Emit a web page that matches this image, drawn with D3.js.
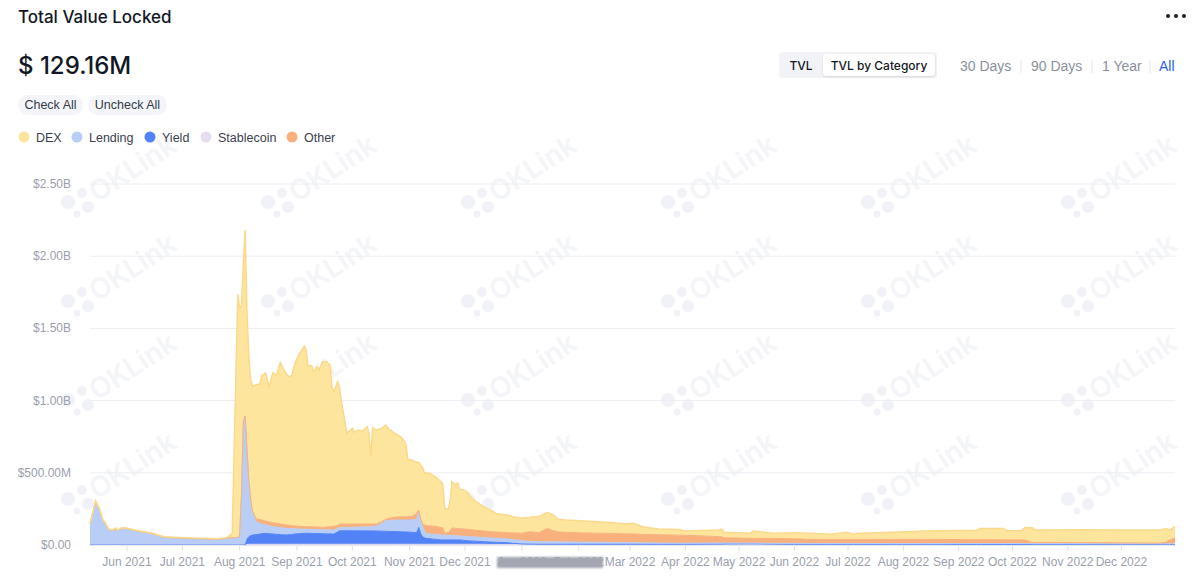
<!DOCTYPE html>
<html><head><meta charset="utf-8">
<script src="https://cdn.jsdelivr.net/npm/d3@7"></script>
<style>
body{margin:0;background:#fff;font-family:Inter,"Noto Sans",Arial,sans-serif;}
svg{display:block;}
</style></head><body>
<svg id="chart" width="1200" height="579"></svg>
<script>
// ---------- DATA (values in millions of USD) ----------
const dates = [
"2021-05-12","2021-05-15","2021-05-17","2021-05-19","2021-05-20","2021-05-22","2021-05-24","2021-05-26","2021-05-27","2021-05-29",
"2021-05-31","2021-06-03","2021-06-07","2021-06-14","2021-06-21","2021-06-27","2021-07-02","2021-07-07","2021-07-14","2021-07-20",
"2021-07-25","2021-07-27","2021-07-28","2021-07-29","2021-07-30","2021-07-31","2021-08-01","2021-08-02","2021-08-03","2021-08-04",
"2021-08-05","2021-08-06","2021-08-07","2021-08-08","2021-08-10","2021-08-12","2021-08-13","2021-08-15","2021-08-17","2021-08-19",
"2021-08-21","2021-08-23","2021-08-25","2021-08-27","2021-08-29","2021-08-31","2021-09-02","2021-09-05","2021-09-06","2021-09-07",
"2021-09-09","2021-09-10","2021-09-12","2021-09-13","2021-09-15","2021-09-17","2021-09-19","2021-09-20","2021-09-21","2021-09-23",
"2021-09-24","2021-09-25","2021-09-27","2021-09-28","2021-09-30","2021-10-01","2021-10-02","2021-10-04","2021-10-06","2021-10-07",
"2021-10-09","2021-10-10","2021-10-11","2021-10-12","2021-10-14","2021-10-17","2021-10-19","2021-10-21","2021-10-24","2021-10-27",
"2021-10-28","2021-10-30","2021-10-31","2021-11-02","2021-11-04","2021-11-05","2021-11-06","2021-11-07","2021-11-08","2021-11-09",
"2021-11-10","2021-11-12","2021-11-14","2021-11-16","2021-11-18","2021-11-19","2021-11-20","2021-11-22","2021-11-23","2021-11-24",
"2021-11-26","2021-11-27","2021-11-28","2021-11-30","2021-12-02","2021-12-04","2021-12-07","2021-12-11","2021-12-15","2021-12-18",
"2021-12-24","2021-12-27","2022-01-01","2022-01-05","2022-01-07","2022-01-10","2022-01-15","2022-01-18","2022-01-21","2022-01-25",
"2022-02-02","2022-02-11","2022-02-20","2022-02-27","2022-03-03","2022-03-08","2022-03-17","2022-03-29","2022-03-31","2022-04-20",
"2022-04-21","2022-04-23","2022-05-07","2022-05-09","2022-05-20","2022-06-01","2022-06-09","2022-06-22","2022-06-30","2022-07-04",
"2022-07-07","2022-07-26","2022-08-14","2022-09-11","2022-09-13","2022-09-26","2022-09-28","2022-10-06","2022-10-08","2022-10-12",
"2022-10-14","2022-11-10","2022-12-01","2022-12-23","2022-12-26","2022-12-28","2022-12-31"
];
const stablecoinValues = [
0,0,0,0,0,0,0,0,0,0, 0,0,0,0,0,0,0,0,0,0, 0,0,0,0,0,0,0,0,0,0,
3,5,5,5,5,5,5,5,5,5, 5,5,5,5,5,5,5,5,5,5, 5,5,5,5,5,5,5,5,5,5,
5,5,5,5,5,5,5,5,5,5, 5,5,5,5,5,5,5,5,5,5, 5,5,5,5,5,5,5,5,5,5,
5,5,5,5,5,5,5,5,5,5, 5,5,5,5,5,5,5,5,4,4, 4,4,3,3,3,3,3,3,3,3,
3,3,3,3,3,3,3,3,3,3, 3,3,3,3,3,3,3,3,3,3, 3,3,3,3,3,3,3,3,3,3,
3,3,3,3,3,3,3
];
const yieldValues = [
0,0,0,0,0,0,0,0,0,0, 0,0,0,0,0,0,0,0,0,0, 0,0,0,0,0,0,0,0,0,0,
37,53,60,64,67,71,73,76,73,71, 69,67,65,65,68,71,73,76,76,76, 75,75,74,74,73,72,72,71,71,85,
94,94,94,94,94,94,94,93,93,93, 93,93,93,92,92,91,90,89,88,87, 87,85,85,83,80,85,117,75,53,45,
41,39,35,33,30,30,30,30,30,30, 30,30,30,28,25,23,21,18,16,15, 12,8,4,3,3,2,2,2,2,2,
2,2,2,2,2,2,2,2,2,3, 3,4,5,5,3,2,2,2,2,2, 2,2,2,1,1,1,1,1,1,1,
1,1,1,1,1,1,1
];
const lendingValues = [
146,301,252,169,156,107,100,114,100,114, 116,107,95,81,53,49,47,44,42,40, 47,50,50,50,50,50,70,350,850,893,
620,392,245,151,88,74,67,59,55,51, 50,49,47,45,40,36,33,28,28,28, 28,28,28,28,28,28,28,28,28,25,
23,23,23,23,23,24,24,26,26,28, 28,28,28,33,35,54,73,76,79,81, 81,83,83,85,90,95,109,90,72,50,
35,34,35,34,34,34,33,32,32,31, 30,30,27,28,30,30,29,29,29,28, 26,26,23,20,19,18,17,17,16,16,
15,14,13,12,11,10,9,8,8,8, 8,7,5,5,6,7,6,6,6,6, 6,5,5,6,6,6,6,6,6,5,
5,5,4,4,4,4,4
];
const otherValues = [
0,0,0,0,0,0,0,0,0,0, 0,0,0,0,0,0,0,0,0,0, 0,0,0,0,0,0,0,0,0,0,
0,0,5,15,20,26,28,26,27,27, 26,25,24,23,22,20,19,18,18,18, 18,18,17,17,16,19,22,25,26,20,
23,23,23,23,23,22,22,21,21,19, 19,19,19,15,13,12,10,15,20,23, 23,23,23,25,35,41,9,15,20,40,
54,54,55,56,51,51,13,21,33,52, 50,50,51,51,49,48,47,46,43,43, 44,46,51,66,65,62,93,78,69,67,
64,63,62,60,60,59,57,55,55,44, 44,36,33,33,34,31,28,28,28,28, 28,29,29,27,27,26,26,25,25,9,
9,8,7,6,12,27,43
];
const dexValues = [
4,4,4,4,4,4,4,4,4,4, 4,4,4,4,4,4,4,4,4,4, 4,19,30,580,1120,1686,1570,1310,1100,1288,
940,850,825,866,930,939,999,1025,936,1039, 1027,1119,1071,1034,1031,1126,1186,1251,1223,1115, 1116,1074,1111,1088,1147,1145,1119,967,932,996,
951,859,709,628,651,663,635,651,644,651, 674,628,466,667,651,646,653,616,581,554, 543,504,397,391,367,349,330,370,388,360,
363,364,350,334,318,300,173,159,212,322, 301,316,273,269,261,228,198,167,150,129, 122,112,104,98,106,111,109,108,88,85,
84,79,74,68,74,53,40,40,29,46, 52,38,35,51,35,42,42,35,49,35, 42,49,58,65,78,79,63,64,85,102,
86,88,89,90,95,65,78.16
];
const seriesNames = ["DEX","Lending","Yield","Stablecoin","Other"];
const seriesColors = ["#fde59e","#b8cef6","#5283f6","#e6ddf0","#f8b17d"];
const stackOrder = ["Stablecoin","Yield","Lending","Other","DEX"];
const yTickValues = [0,500,1000,1500,2000,2500];
const yTickLabels = ["$0.00","$500.00M","$1.00B","$1.50B","$2.00B","$2.50B"];
const rangeLabels = ["30 Days","90 Days","1 Year","All"];
const viewLabels = ["TVL","TVL by Category"];

// ---------- BUILD ----------
const parse = d3.timeParse("%Y-%m-%d");
const valuesByName = {DEX:dexValues, Lending:lendingValues, Yield:yieldValues, Stablecoin:stablecoinValues, Other:otherValues};
const colorOf = {}; seriesNames.forEach((n,i)=>colorOf[n]=seriesColors[i]);
const rows = dates.map((d,i)=>{
  const r = {date:parse(d)};
  seriesNames.forEach(n=>r[n]=valuesByName[n][i]);
  return r;
});

const svg = d3.select("#chart");
const font = 'Inter,"Noto Sans",Arial,sans-serif';
const font2 = '"Liberation Sans",Arial,Helvetica,sans-serif';

const x = d3.scaleTime()
  .domain([parse("2021-05-12"), parse("2021-12-01"), parse("2022-03-01"), parse("2022-12-31")])
  .range([90, 465, 630, 1175]);
const y = d3.scaleLinear().domain([0,2500]).range([545,184]);

const defs = svg.append("defs");
defs.append("filter").attr("id","smudge").append("feGaussianBlur").attr("stdDeviation",0.8);
const sh = defs.append("filter").attr("id","shadow").attr("x","-20%").attr("y","-30%").attr("width","140%").attr("height","160%");
sh.append("feDropShadow").attr("dx",0).attr("dy",1).attr("stdDeviation",1.2).attr("flood-color","#000").attr("flood-opacity",0.12);

// watermark
const wm = svg.append("g").attr("class","watermark");
const wmCols = [77,277,477,677,877,1077], wmRows = [203,302,401,500];
wmRows.forEach(ry=>wmCols.forEach(cx=>{
  const g = wm.append("g").attr("transform",`translate(${cx},${ry})`);
  [[-9,-1,7],[5,-10,5],[11,4,6],[0,11,3.5]].forEach(c=>g.append("circle").attr("cx",c[0]).attr("cy",c[1]).attr("r",c[2]).attr("fill","#f1f2f7"));
  g.append("text").attr("transform","translate(20,0) rotate(-33)").attr("font-family",font)
    .attr("font-size",28).attr("font-weight",600).attr("fill","#f4f5f8").text("OKLink");
}));

// gridlines
svg.append("g").selectAll("line").data(yTickValues).join("line")
  .attr("x1",90).attr("x2",1175).attr("y1",d=>y(d)).attr("y2",d=>y(d))
  .attr("stroke","#eceef3").attr("stroke-width",1);

// stacked areas
const stack = d3.stack().keys(stackOrder);
const layers = stack(rows);
const area = d3.area().x(d=>x(d.data.date)).y0(d=>y(d[0])).y1(d=>y(d[1]));
const topLine = d3.line().x(d=>x(d.data.date)).y(d=>y(d[1]));
const ag = svg.append("g");
ag.selectAll("path.area").data(layers).join("path").attr("class","area")
  .attr("d",area).attr("fill",d=>colorOf[d.key]);
ag.selectAll("path.top").data(layers).join("path").attr("class","top")
  .attr("d",topLine).attr("fill","none")
  .attr("stroke",d=>d.key==="DEX"?"#fbd98a":colorOf[d.key]).attr("stroke-width",d=>d.key==="DEX"?1.5:1);

// y axis labels
svg.append("g").selectAll("text").data(yTickValues).join("text")
  .attr("x",71).attr("y",d=>y(d)+4).attr("text-anchor","end")
  .attr("font-family",font2).attr("font-size",12).attr("fill","#9aa0ad")
  .text((d,i)=>yTickLabels[i]);

// x axis
const months = d3.timeMonth.range(parse("2021-06-01"), parse("2022-12-02"));
const xg = svg.append("g");
xg.append("line").attr("x1",90).attr("x2",1175).attr("y1",545.5).attr("y2",545.5).attr("stroke","#e6e8ee");
xg.selectAll("line.tick").data(months).join("line").attr("class","tick")
  .attr("x1",d=>x(d)).attr("x2",d=>x(d)).attr("y1",546).attr("y2",551).attr("stroke","#dde0e7");
xg.selectAll("text").data(months).join("text")
  .attr("x",d=>x(d)).attr("y",566).attr("text-anchor","middle")
  .attr("font-family",font2).attr("font-size",12).attr("fill","#9aa0ad")
  .text(d=>d3.timeFormat("%b %Y")(d));
// redaction smudge over two labels (as in reference)
svg.append("rect").attr("x",497).attr("y",557).attr("width",106).attr("height",11)
  .attr("fill","#a3a6b0").attr("filter","url(#smudge)");

// ---------- HEADER ----------
svg.append("text").attr("x",18).attr("y",23).attr("font-family",font).attr("font-size",17)
  .attr("font-weight",500).attr("fill","#121826").text("Total Value Locked");
[1168,1176,1184].forEach(cx=>svg.append("circle").attr("cx",cx).attr("cy",16).attr("r",2).attr("fill","#1c1f26"));

const last = rows[rows.length-1];
const lastTotal = seriesNames.reduce((s,n)=>s+last[n],0);
svg.append("text").attr("x",18).attr("y",74).attr("font-family",font).attr("font-size",24)
  .attr("font-weight",500).attr("fill","#121826").text("$ " + lastTotal.toFixed(2) + "M");

// check buttons
[["Check All",18,65],["Uncheck All",88,79]].forEach(b=>{
  svg.append("rect").attr("x",b[1]).attr("y",95).attr("width",b[2]).attr("height",20).attr("rx",10).attr("fill","#f4f5f9");
  svg.append("text").attr("x",b[1]+b[2]/2).attr("y",109).attr("text-anchor","middle").attr("font-family",font2)
    .attr("font-size",12.5).attr("fill","#333a47").text(b[0]);
});

// legend
const legendX = [24,77,150,206,292];
seriesNames.forEach((n,i)=>{
  svg.append("circle").attr("cx",legendX[i]).attr("cy",137).attr("r",5.5).attr("fill",seriesColors[i]);
  svg.append("text").attr("x",legendX[i]+12).attr("y",141.5).attr("font-family",font2).attr("font-size",12.5)
    .attr("fill","#3a4150").text(n);
});

// view toggle
svg.append("rect").attr("x",779).attr("y",52).attr("width",158).attr("height",26).attr("rx",4).attr("fill","#f2f3f7");
svg.append("rect").attr("x",823).attr("y",54).attr("width",112).attr("height",22).attr("rx",4).attr("fill","#fff").attr("filter","url(#shadow)");
svg.append("text").attr("x",801).attr("y",70).attr("text-anchor","middle").attr("font-family",font).attr("font-size",12)
  .attr("font-weight",500).attr("fill","#121826").text(viewLabels[0]);
svg.append("text").attr("x",879).attr("y",70).attr("text-anchor","middle").attr("font-family",font).attr("font-size",12)
  .attr("font-weight",500).attr("fill","#121826").text(viewLabels[1]);

// range buttons
const rangeX = [960,1031,1102,1159];
rangeLabels.forEach((l,i)=>{
  svg.append("text").attr("x",rangeX[i]).attr("y",71).attr("font-family",font2).attr("font-size",14)
    .attr("fill", l==="All" ? "#2d62e8" : "#8a909c").text(l);
});
[1021,1092,1150].forEach(sx=>svg.append("line").attr("x1",sx).attr("x2",sx).attr("y1",60).attr("y2",73).attr("stroke","#e3e5ea"));
</script>
</body></html>
